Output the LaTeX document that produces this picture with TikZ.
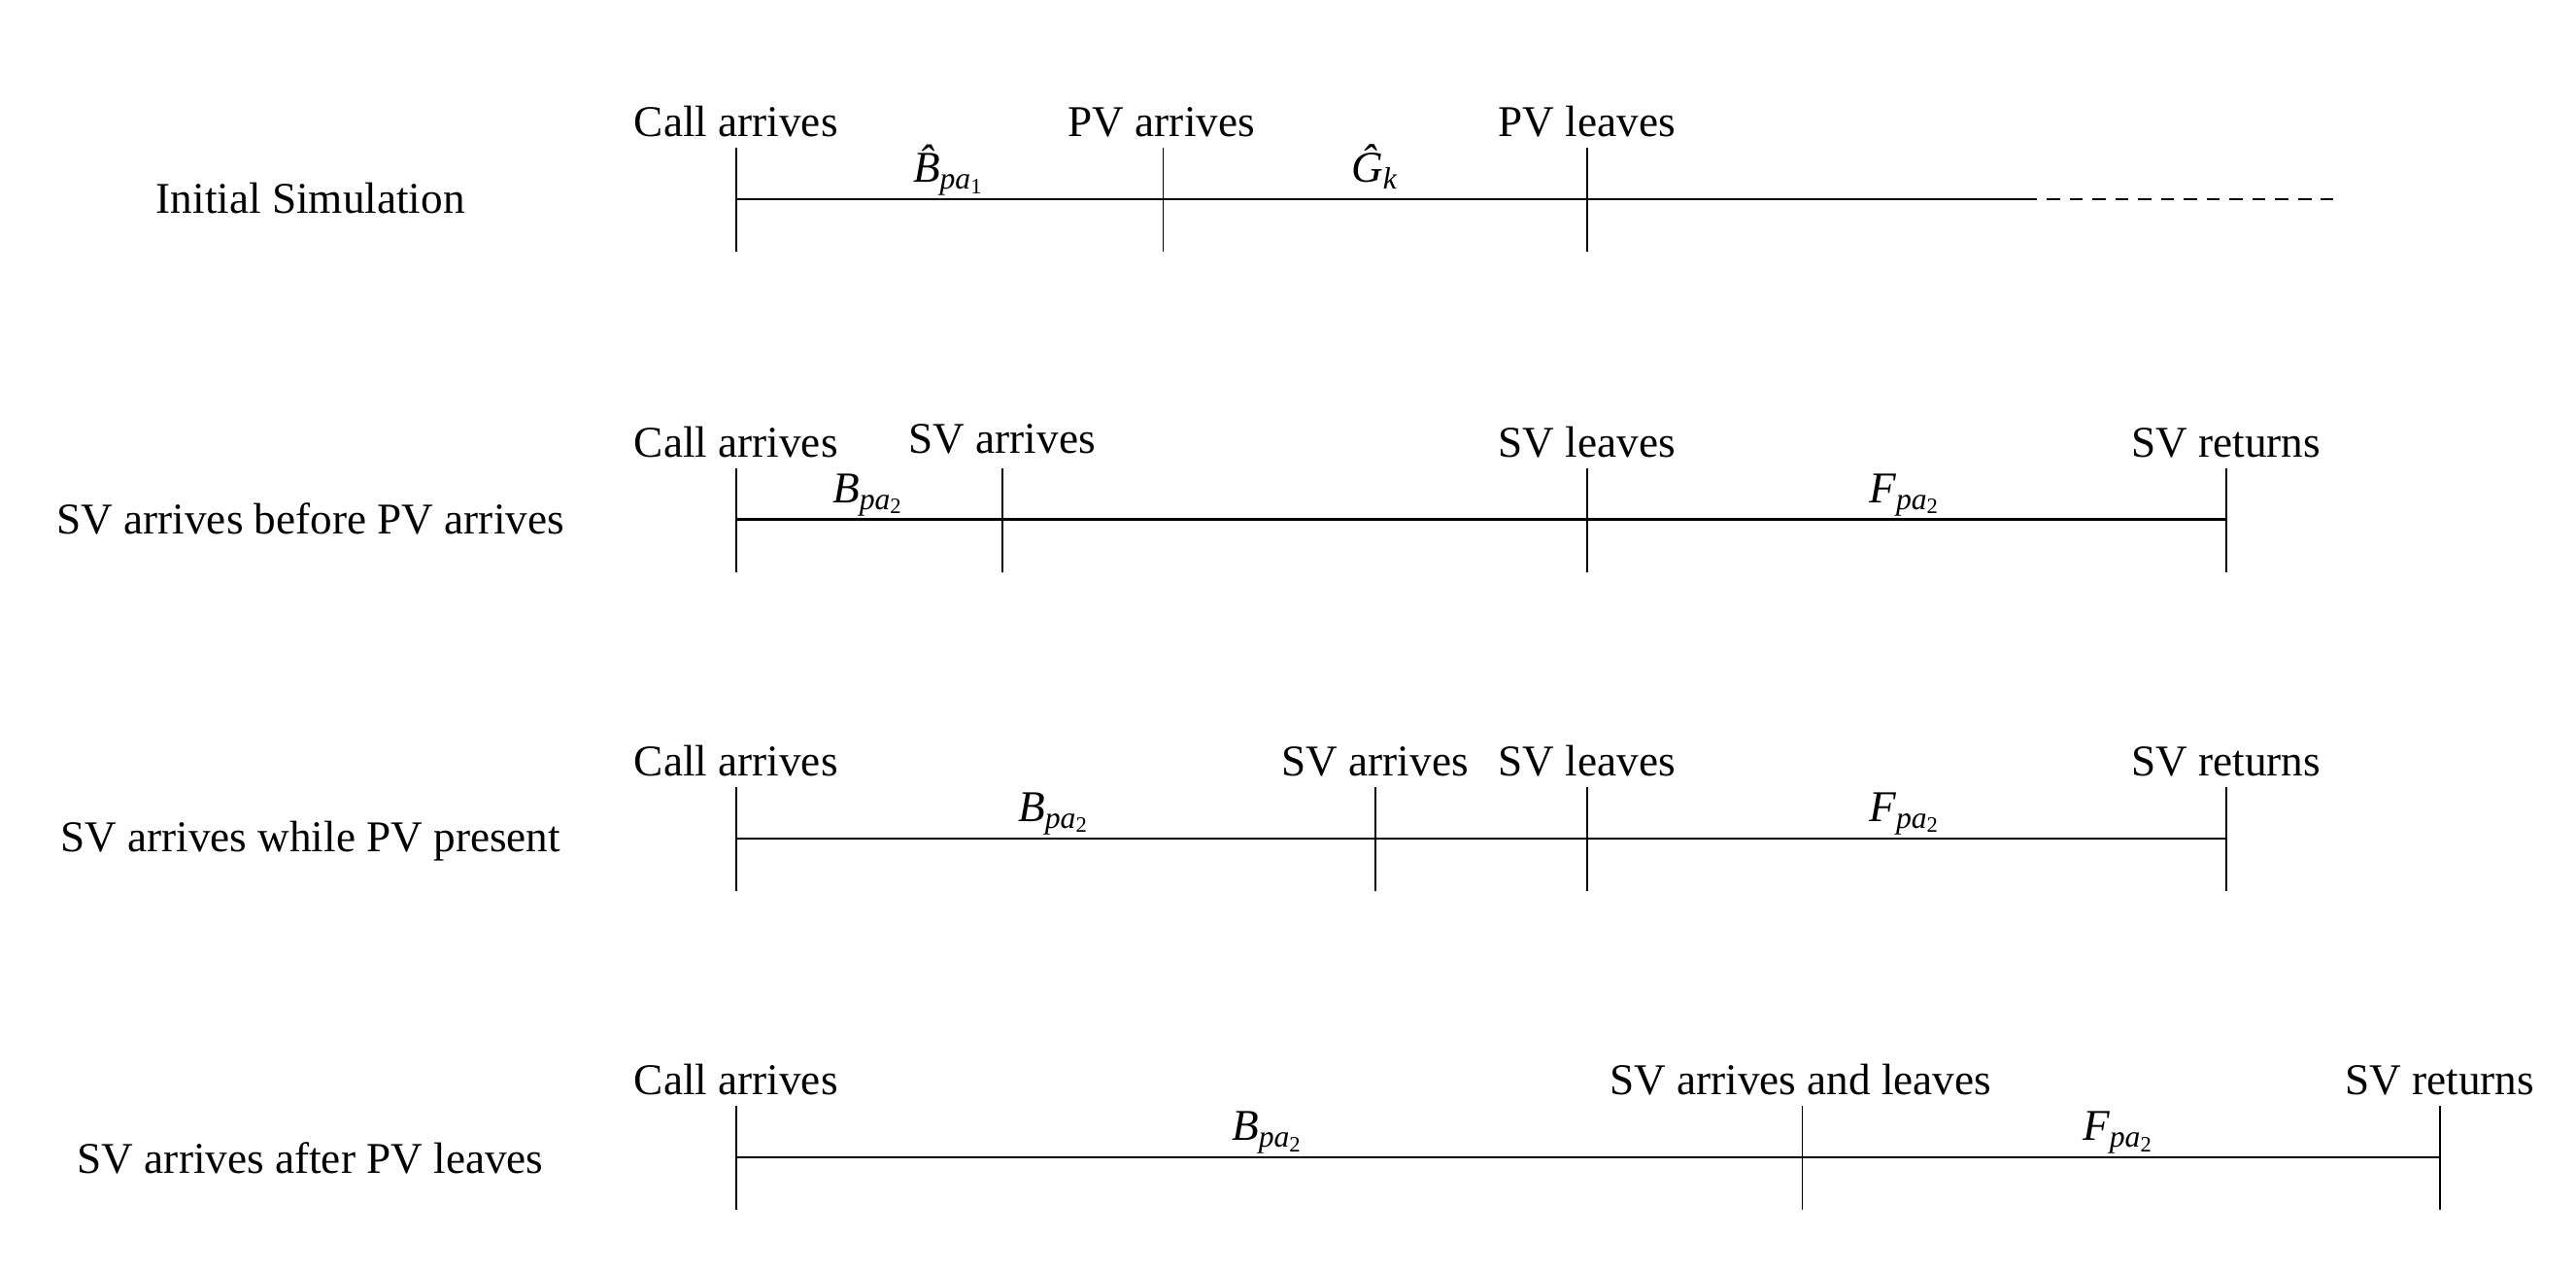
\documentclass[tikz,border=0pt]{standalone}
\usepackage{fontspec}
\setmainfont{Liberation Serif}
\begin{document}
\begin{tikzpicture}[x=0.374pt,y=-0.374pt,
  evt/.style={anchor=base,inner sep=0pt,font=\fontsize{10}{12}\selectfont},
  dur/.style={anchor=base,inner sep=0pt,font=\fontsize{10}{12}\selectfont\itshape},
  row/.style={anchor=base,inner sep=0pt,font=\fontsize{10}{12}\selectfont},
  tl/.style={line width=0.4pt},
  ml/.style={line width=0.45pt}]
\useasboundingbox (0,0) rectangle (1568,773);
% ---------- Row 1
\node[row] (n1) at (189,130) {Initial Simulation};
\foreach \n/\x in {a/448,b/708,c/966}{
  \coordinate (r1\n) at (\x,121);
  \coordinate (r1\n T) at (\x,90);
  \coordinate (r1\n B) at (\x,153);
  \draw[tl] (r1\n T) -- (r1\n B);
}
\coordinate (r1e) at (1232,121);
\coordinate (r1f) at (1420,121);
\draw[ml] (r1a) -- (r1e);
\draw[ml,dash pattern=on 3pt off 2.2pt] (r1e) -- (r1f);
\node[evt] (l1a) at (448,83) {Call arrives};
\node[evt] (l1b) at (707,83) {PV arrives};
\node[evt] (l1c) at (966,83) {PV leaves};
\node[dur] (d1a) at (578,111) {\^{B}\textsubscript{pa\textsubscript{\upshape 1}}};
\node[dur] (d1b) at (837,111) {\^{G}\textsubscript{k}};
% ---------- Row 2
\node[row] (n2) at (189,325) {SV arrives before PV arrives};
\foreach \n/\x in {a/448,b/610,c/966,d/1355}{
  \coordinate (r2\n) at (\x,316);
  \coordinate (r2\n T) at (\x,285);
  \coordinate (r2\n B) at (\x,348);
  \draw[tl] (r2\n T) -- (r2\n B);
}
\draw[ml] (r2a) -- (r2d);
\node[evt] (l2a) at (448,278) {Call arrives};
\node[evt] (l2b) at (610,276) {SV arrives};
\node[evt] (l2c) at (966,278) {SV leaves};
\node[evt] (l2d) at (1355,278) {SV returns};
\node[dur] (d2a) at (529,306) {B\textsubscript{pa\textsubscript{\upshape 2}}};
\node[dur] (d2b) at (1160,306) {F\textsubscript{pa\textsubscript{\upshape 2}}};
% ---------- Row 3
\node[row] (n3) at (189,518) {SV arrives while PV present};
\foreach \n/\x in {a/448,b/837,c/966,d/1355}{
  \coordinate (r3\n) at (\x,510);
  \coordinate (r3\n T) at (\x,479);
  \coordinate (r3\n B) at (\x,542);
  \draw[tl] (r3\n T) -- (r3\n B);
}
\draw[ml] (r3a) -- (r3d);
\node[evt] (l3a) at (448,472) {Call arrives};
\node[evt] (l3b) at (837,472) {SV arrives};
\node[evt] (l3c) at (966,472) {SV leaves};
\node[evt] (l3d) at (1355,472) {SV returns};
\node[dur] (d3a) at (642,500) {B\textsubscript{pa\textsubscript{\upshape 2}}};
\node[dur] (d3b) at (1160,500) {F\textsubscript{pa\textsubscript{\upshape 2}}};
% ---------- Row 4
\node[row] (n4) at (189,714) {SV arrives after PV leaves};
\foreach \n/\x in {a/448,b/1097,c/1485}{
  \coordinate (r4\n) at (\x,704);
  \coordinate (r4\n T) at (\x,673);
  \coordinate (r4\n B) at (\x,736);
  \draw[tl] (r4\n T) -- (r4\n B);
}
\draw[ml] (r4a) -- (r4c);
\node[evt] (l4a) at (448,666) {Call arrives};
\node[evt] (l4b) at (1096,666) {SV arrives and leaves};
\node[evt] (l4c) at (1485,666) {SV returns};
\node[dur] (d4a) at (772,694) {B\textsubscript{pa\textsubscript{\upshape 2}}};
\node[dur] (d4b) at (1290,694) {F\textsubscript{pa\textsubscript{\upshape 2}}};
\end{tikzpicture}
\end{document}
